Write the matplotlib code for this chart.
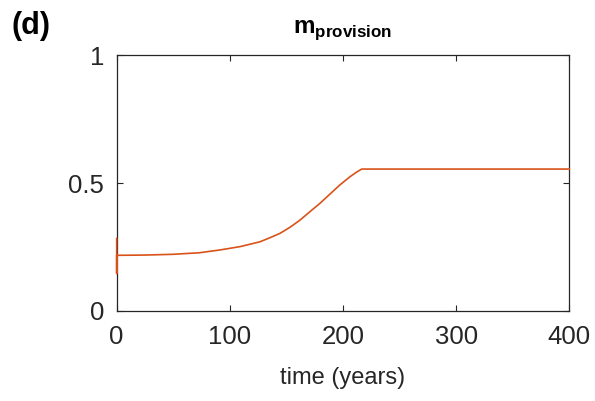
import numpy as np
import matplotlib
matplotlib.use("Agg")
import matplotlib.pyplot as plt

plt.rcParams["font.family"] = ["Liberation Sans", "DejaVu Sans"]
plt.rcParams["mathtext.fontset"] = "custom"
plt.rcParams["mathtext.bf"] = "Liberation Sans:bold"
plt.rcParams["mathtext.rm"] = "Liberation Sans"

# m_provision over time (the first three points are the jump at t=0)
time_years = [0, 0, 0, 25, 50, 73, 91.3, 109, 126.6, 135.5, 144.3, 153.2, 162, 170.8,
              179.7, 188.5, 197.3, 206.2, 212, 216.5, 300, 400]
m_provision = [0.283, 0.146, 0.217, 0.218, 0.221, 0.227, 0.238, 0.251, 0.270, 0.286,
               0.303, 0.327, 0.355, 0.388, 0.421, 0.457, 0.493, 0.525, 0.543, 0.555,
               0.555, 0.555]

x_ticks = [0, 100, 200, 300, 400]
y_ticks = [0, 0.5, 1]
y_tick_labels = ["0", "0.5", "1"]

fig = plt.figure(figsize=(5.95, 4.01), dpi=100)
ax = fig.add_axes([0.1961, 0.2252, 0.7607, 0.6364])

ax.plot(time_years, m_provision, color="#D95319", lw=1.2, zorder=3, clip_on=False)

ax.set_xlim(0, 400)
ax.set_ylim(0, 1)
ax.set_xticks(x_ticks)
ax.set_yticks(y_ticks)
ax.set_yticklabels(y_tick_labels)
ax.tick_params(direction="in", top=True, right=True, length=4, width=0.8,
               colors="#262626", labelsize=18.5)
ax.tick_params(axis="x", pad=10)
ax.tick_params(axis="y", pad=9)
for s in ax.spines.values():
    s.set_color("#262626")
    s.set_linewidth(0.9)

ax.set_xlabel("time (years)", fontsize=17, color="#262626", labelpad=13)
ax.set_title(r"$\mathbf{m}_{\mathbf{provision}}$", fontsize=17.5, pad=16)
fig.text(0.0185, 0.972, "(d)", fontsize=22, fontweight="bold", va="top")

fig.savefig("out.png", dpi=100)
